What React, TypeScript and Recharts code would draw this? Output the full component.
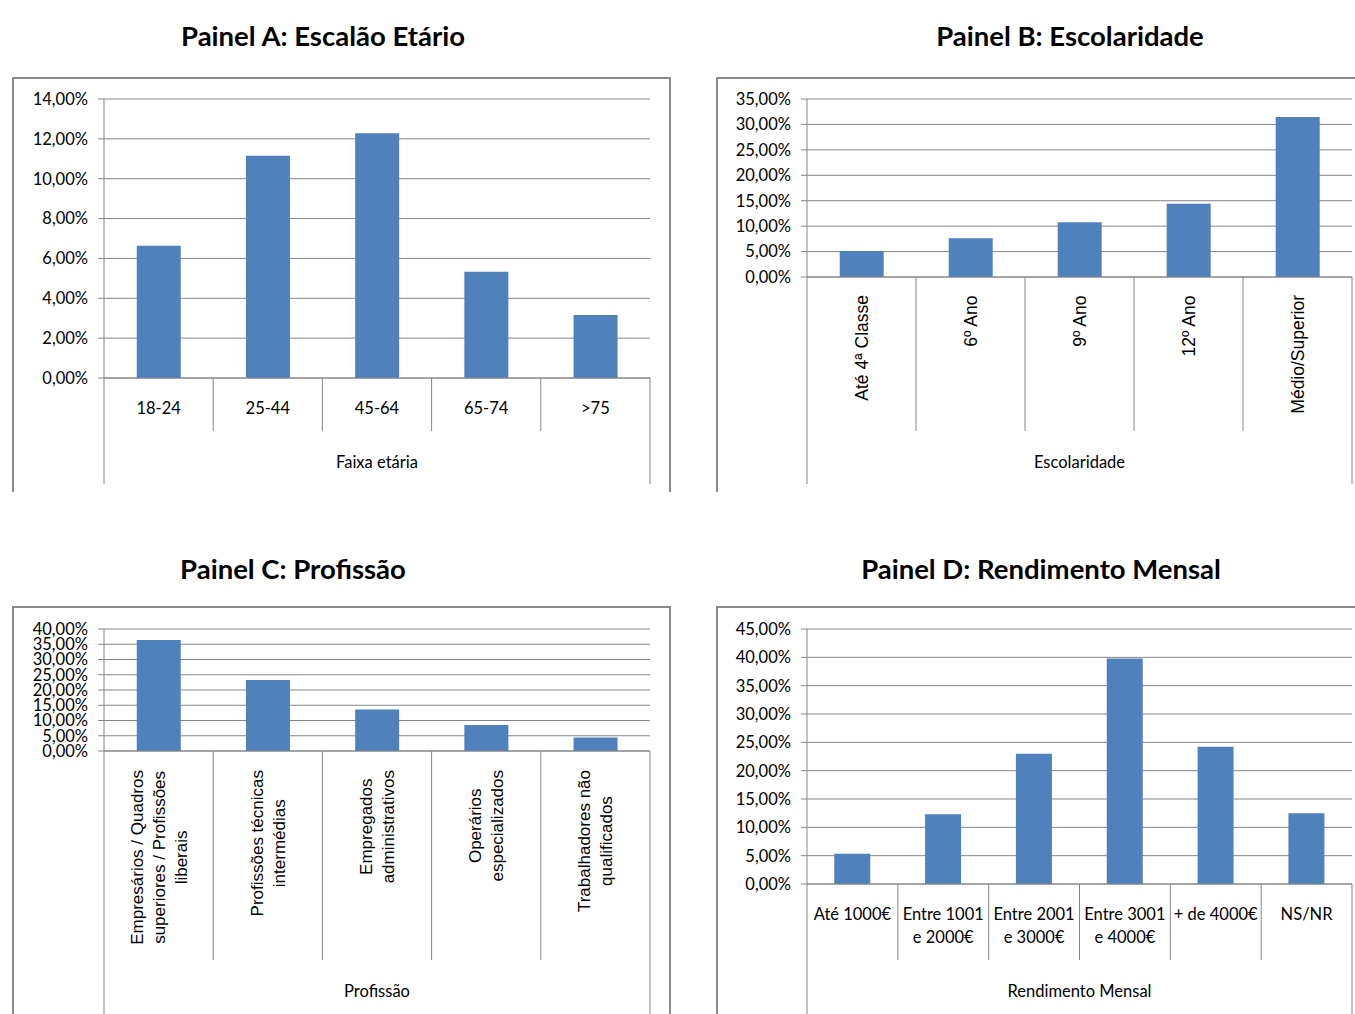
import React from 'react';
import { BarChart, Bar, XAxis, YAxis, CartesianGrid } from 'recharts';

// Painel A: Escalão Etário
const ageGroups = ['18-24', '25-44', '45-64', '65-74', '>75'];
const ageShares = [6.64, 11.15, 12.28, 5.33, 3.16];
const ageTicks = [0, 2, 4, 6, 8, 10, 12, 14];

// Painel B: Escolaridade
const schoolLevels = ['Até 4ª Classe', '6º Ano', '9º Ano', '12º Ano', 'Médio/Superior'];
const schoolShares = [5.12, 7.64, 10.78, 14.4, 31.45];
const schoolTicks = [0, 5, 10, 15, 20, 25, 30, 35];

// Painel C: Profissão
const professions = [
  'Empresários / Quadros\nsuperiores / Profissões\nliberais',
  'Profissões técnicas\nintermédias',
  'Empregados\nadministrativos',
  'Operários\nespecializados',
  'Trabalhadores não\nqualificados',
];
const professionShares = [36.4, 23.3, 13.6, 8.55, 4.4];
const professionTicks = [0, 5, 10, 15, 20, 25, 30, 35, 40];

// Painel D: Rendimento Mensal
const incomeBands = [
  'Até 1000€',
  'Entre 1001\ne 2000€',
  'Entre 2001\ne 3000€',
  'Entre 3001\ne 4000€',
  '+ de 4000€',
  'NS/NR',
];
const incomeShares = [5.36, 12.31, 22.97, 39.8, 24.2, 12.49];
const incomeTicks = [0, 5, 10, 15, 20, 25, 30, 35, 40, 45];

const BAR_COLOR = '#4F81BD';
const GRID_COLOR = '#868686';
const FRAME_COLOR = '#8a8a8a';
const TEXT_COLOR = '#000000';
const LABEL_FONT = 'Lato, "Noto Sans", sans-serif';
const LABEL_SIZE = 16.5;
const TITLE_SIZE = 27.5;
const ROT_FONT = '"Liberation Sans", Arial, sans-serif';
const ROT_LINE = 22;
const HORIZ_LINE = 23;

let measureCtx: CanvasRenderingContext2D | null = null;
function textWidth(s: string, font: string): number {
  if (!measureCtx) measureCtx = document.createElement('canvas').getContext('2d');
  if (!measureCtx) return s.length * 8;
  measureCtx.font = font;
  return measureCtx.measureText(s).width;
}

const pct = (v: number) => v.toFixed(2).replace('.', ',') + '%';

type PanelConfig = {
  title: string;
  titleX: number;
  titleY: number;
  boxX: number;
  boxY: number;
  boxW: number;
  boxH: number;
  frameRight: boolean;
  yAxisW: number;
  marginTop: number;
  marginRight: number;
  xAxisH: number;
  categories: string[];
  values: number[];
  ticks: number[];
  axisTitle: string;
  rotated: boolean;
  rotSize: number;
  labelGap: number;
  dividerDepth: number;
  outerDepth: number;
  axisTitleDepth: number;
};

function CategoryTick(props: any) {
  const { x, y, payload, index, cfg, band } = props;
  const n = cfg.categories.length;
  const lines = String(payload.value).split('\n');
  const left = x - band / 2;
  const right = x + band / 2;
  const parts: React.ReactNode[] = [];

  // Category separators; the outer ones run down past the axis title
  parts.push(
    <line
      key="l"
      x1={left}
      x2={left}
      y1={y}
      y2={y + (index === 0 ? cfg.outerDepth : cfg.dividerDepth)}
      stroke={GRID_COLOR}
      strokeWidth={1}
    />
  );
  if (index === n - 1) {
    parts.push(
      <line key="r" x1={right} x2={right} y1={y} y2={y + cfg.outerDepth} stroke={GRID_COLOR} strokeWidth={1} />
    );
  }
  if (index === 0) {
    parts.push(
      <text
        key="t"
        x={left + (band * n) / 2}
        y={y + cfg.axisTitleDepth}
        dy="0.35em"
        textAnchor="middle"
        fontFamily={LABEL_FONT}
        fontSize={LABEL_SIZE}
        fill={TEXT_COLOR}
      >
        {cfg.axisTitle}
      </text>
    );
  }

  if (cfg.rotated) {
    const size = cfg.rotSize;
    const font = `${size}px ${ROT_FONT}`;
    const maxLen = Math.max(...lines.map((l: string) => textWidth(l, font)));
    const cy = y + cfg.labelGap + maxLen / 2;
    parts.push(
      <text
        key="lab"
        transform={`rotate(-90, ${x}, ${cy})`}
        textAnchor="middle"
        fontFamily={ROT_FONT}
        fontSize={size}
        fill={TEXT_COLOR}
      >
        {lines.map((l: string, i: number) => (
          <tspan key={i} x={x} y={cy + (i - (lines.length - 1) / 2) * ROT_LINE + size * 0.35}>
            {l}
          </tspan>
        ))}
      </text>
    );
  } else {
    parts.push(
      <text key="lab" textAnchor="middle" fontFamily={LABEL_FONT} fontSize={LABEL_SIZE} fill={TEXT_COLOR}>
        {lines.map((l: string, i: number) => (
          <tspan key={i} x={x} y={y + cfg.labelGap + i * HORIZ_LINE + LABEL_SIZE * 0.35}>
            {l}
          </tspan>
        ))}
      </text>
    );
  }
  return <g>{parts}</g>;
}

function Panel({ cfg }: { cfg: PanelConfig }) {
  const data = cfg.categories.map((name, i) => ({ name, value: cfg.values[i] }));
  const plotW = cfg.boxW - cfg.yAxisW - cfg.marginRight;
  const band = plotW / cfg.categories.length;
  const yMax = cfg.ticks[cfg.ticks.length - 1];
  return (
    <>
      <div
        style={{
          position: 'absolute',
          left: cfg.titleX - 300,
          width: 600,
          top: cfg.titleY - 18,
          height: 36,
          lineHeight: '36px',
          textAlign: 'center',
          fontFamily: LABEL_FONT,
          fontWeight: 700,
          fontSize: TITLE_SIZE,
          color: '#000',
        }}
      >
        {cfg.title}
      </div>
      <div
        style={{
          position: 'absolute',
          left: cfg.boxX,
          top: cfg.boxY,
          width: cfg.boxW + 2,
          height: cfg.boxH,
          boxSizing: 'border-box',
          borderTop: `2px solid ${FRAME_COLOR}`,
          borderLeft: `2px solid ${FRAME_COLOR}`,
          borderRight: cfg.frameRight ? `2px solid ${FRAME_COLOR}` : 'none',
        }}
      />
      <div style={{ position: 'absolute', left: cfg.boxX, top: cfg.boxY }}>
        <BarChart
          width={cfg.boxW}
          height={cfg.boxH}
          data={data}
          margin={{ top: cfg.marginTop, right: cfg.marginRight, left: 0, bottom: 0 }}
          barCategoryGap="30%"
        >
          <CartesianGrid horizontal vertical={false} stroke={GRID_COLOR} strokeDasharray="" />
          <YAxis
            type="number"
            domain={[0, yMax]}
            ticks={cfg.ticks}
            interval={0}
            width={cfg.yAxisW}
            tickFormatter={pct}
            tickSize={6}
            tickMargin={10}
            axisLine={{ stroke: GRID_COLOR }}
            tickLine={{ stroke: GRID_COLOR }}
            tick={{ fontFamily: LABEL_FONT, fontSize: LABEL_SIZE, fill: TEXT_COLOR }}
          />
          <XAxis
            dataKey="name"
            type="category"
            interval={0}
            height={cfg.xAxisH}
            tickLine={false}
            tickSize={0}
            tickMargin={0}
            axisLine={{ stroke: GRID_COLOR }}
            tick={(p: any) => <CategoryTick {...p} cfg={cfg} band={band} />}
          />
          <Bar dataKey="value" fill={BAR_COLOR} isAnimationActive={false} />
        </BarChart>
      </div>
    </>
  );
}

const panelA: PanelConfig = {
  title: 'Painel A: Escalão Etário',
  titleX: 323,
  titleY: 36,
  boxX: 12,
  boxY: 77,
  boxW: 657,
  boxH: 415,
  frameRight: true,
  yAxisW: 92,
  marginTop: 22,
  marginRight: 19,
  xAxisH: 114,
  categories: ageGroups,
  values: ageShares,
  ticks: ageTicks,
  axisTitle: 'Faixa etária',
  rotated: false,
  rotSize: 17,
  labelGap: 30,
  dividerDepth: 53,
  outerDepth: 106,
  axisTitleDepth: 84,
};

const panelB: PanelConfig = {
  title: 'Painel B: Escolaridade',
  titleX: 1070,
  titleY: 36,
  boxX: 716,
  boxY: 77,
  boxW: 639,
  boxH: 415,
  frameRight: false,
  yAxisW: 91,
  marginTop: 22,
  marginRight: 3,
  xAxisH: 215,
  categories: schoolLevels,
  values: schoolShares,
  ticks: schoolTicks,
  axisTitle: 'Escolaridade',
  rotated: true,
  rotSize: 17.5,
  labelGap: 18,
  dividerDepth: 154,
  outerDepth: 207,
  axisTitleDepth: 185,
};

const panelC: PanelConfig = {
  title: 'Painel C: Profissão',
  titleX: 293,
  titleY: 569,
  boxX: 12,
  boxY: 606,
  boxW: 657,
  boxH: 408,
  frameRight: true,
  yAxisW: 92,
  marginTop: 23,
  marginRight: 19,
  xAxisH: 263,
  categories: professions,
  values: professionShares,
  ticks: professionTicks,
  axisTitle: 'Profissão',
  rotated: true,
  rotSize: 17,
  labelGap: 19,
  dividerDepth: 209,
  outerDepth: 270,
  axisTitleDepth: 240,
};

const panelD: PanelConfig = {
  title: 'Painel D: Rendimento Mensal',
  titleX: 1041,
  titleY: 569,
  boxX: 716,
  boxY: 606,
  boxW: 639,
  boxH: 408,
  frameRight: false,
  yAxisW: 91,
  marginTop: 23,
  marginRight: 3,
  xAxisH: 130,
  categories: incomeBands,
  values: incomeShares,
  ticks: incomeTicks,
  axisTitle: 'Rendimento Mensal',
  rotated: false,
  rotSize: 17,
  labelGap: 30,
  dividerDepth: 76,
  outerDepth: 140,
  axisTitleDepth: 107,
};

export default function App() {
  return (
    <div
      style={{
        position: 'absolute',
        left: 0,
        top: 0,
        width: 1355,
        height: 1014,
        overflow: 'hidden',
        background: '#ffffff',
      }}
    >
      <Panel cfg={panelA} />
      <Panel cfg={panelB} />
      <Panel cfg={panelC} />
      <Panel cfg={panelD} />
    </div>
  );
}
